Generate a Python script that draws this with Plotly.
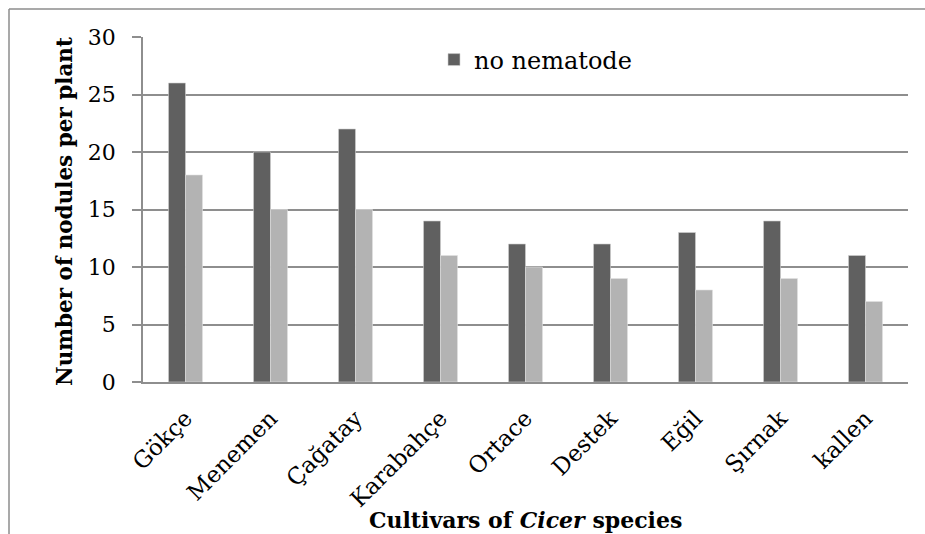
import plotly.graph_objects as go

cultivars = ["Gökçe", "Menemen", "Çağatay", "Karabahçe", "Ortace", "Destek", "Eğil", "Şırnak", "kallen"]
no_nematode = [26, 20, 22, 14, 12, 12, 13, 14, 11]
with_nematode = [18, 15, 15, 11, 10, 9, 8, 9, 7]
y_ticks = [0, 5, 10, 15, 20, 25, 30]

FONT = "DejaVu Serif"
GRID = "#8e8e8e"

fig = go.Figure()
fig.add_trace(go.Bar(x=cultivars, y=no_nematode, name="no nematode",
                     marker=dict(color="#606060", line=dict(color="#d0d0d0", width=0.6))))
fig.add_trace(go.Bar(x=cultivars, y=with_nematode, name="nematode", showlegend=False,
                     marker=dict(color="#b3b3b3", line=dict(color="#e0e0e0", width=0.6))))

W, H = 925, 534
ml, mr, mt, mb = 143, 17, 37, 152
pw, ph = W - ml - mr, H - mt - mb

def px(x):
    return (x - ml) / pw

def py(y):
    return (H - mb - y) / ph

border = dict(color="#8c8c8c", width=1.5)

fig.update_layout(
    width=W, height=H,
    margin=dict(l=ml, r=mr, t=mt, b=mb),
    paper_bgcolor="white", plot_bgcolor="white",
    barmode="group", bargap=0.6, bargroupgap=0.0,
    font=dict(family=FONT, size=20, color="black"),
    showlegend=True,
    legend=dict(x=px(434), y=py(60), xanchor="left", yanchor="middle",
                font=dict(family=FONT, size=24), bgcolor="rgba(0,0,0,0)",
                itemwidth=30, tracegroupgap=0),
    xaxis=dict(showgrid=False, showline=True, linecolor=GRID, linewidth=1.5,
               ticks="", tickangle=-45, tickfont=dict(family=FONT, size=23),
               ticklabelstandoff=12, range=[-0.5, 8.5]),
    yaxis=dict(range=[0, 30], tickvals=y_ticks, showgrid=True, gridcolor=GRID, gridwidth=1.5,
               showline=True, linecolor=GRID, linewidth=1.5, ticks="outside", ticklen=9,
               tickcolor=GRID, tickwidth=1.5, tickfont=dict(family=FONT, size=22),
               ticklabelstandoff=12, zeroline=False),
    shapes=[
        dict(type="line", xref="paper", yref="paper",
             x0=px(9), x1=px(9), y0=py(534), y1=py(9), line=border, layer="below"),
        dict(type="line", xref="paper", yref="paper",
             x0=px(9), x1=px(925), y0=py(9), y1=py(9), line=border, layer="below"),
    ],
    annotations=[
        dict(text="<b>Number of nodules per plant</b>", xref="paper", yref="paper",
             x=px(64), y=py(212), textangle=-90, showarrow=False,
             xanchor="center", yanchor="middle", font=dict(family=FONT, size=21.5)),
        dict(text="<b>Cultivars of <i>Cicer</i> species</b>", xref="paper", yref="paper",
             x=px(525), y=py(520), showarrow=False,
             xanchor="center", yanchor="middle", font=dict(family=FONT, size=22)),
    ],
)

fig.write_html("out.html", config={"displayModeBar": False},
               post_script="document.body.style.margin='0';document.body.style.overflow='hidden';document.documentElement.style.overflow='hidden';")
